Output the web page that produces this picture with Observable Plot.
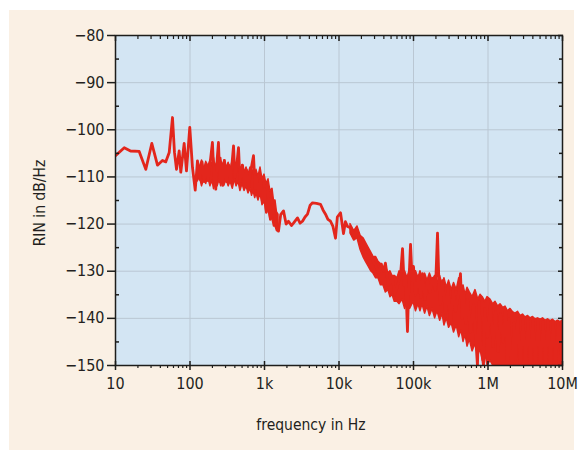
<!DOCTYPE html>
<html><head><meta charset="utf-8">
<script src="https://cdn.jsdelivr.net/npm/d3@7"></script>
<script src="https://cdn.jsdelivr.net/npm/@observablehq/plot@0.6"></script>
<style>
body{margin:0;background:#fff;width:578px;height:450px;position:relative;overflow:hidden;font-family:"DejaVu Sans Condensed","Liberation Sans Narrow","Liberation Sans",sans-serif;color:#231f20;}
#panel{position:absolute;left:9px;top:10px;width:565px;height:440px;background:#faf0e4;}
#chart{position:absolute;left:0;top:0;}
#ylab{position:absolute;left:40px;top:203px;transform:translate(-50%,-50%) rotate(-90deg);font-size:15.5px;white-space:nowrap;}
#xlab{position:absolute;left:311px;top:425px;transform:translate(-50%,-50%);font-size:15.5px;white-space:nowrap;}
</style></head>
<body>
<div id="panel"></div>
<div id="chart"></div>
<div id="ylab">RIN in dB/Hz</div>
<div id="xlab">frequency in Hz</div>
<script>
// x ticks
const xTicks = [10, 100, 1e3, 1e4, 1e5, 1e6, 1e7];
const xTickLabels = ["10", "100", "1k", "10k", "100k", "1M", "10M"];
const xMinor = [20,30,40,50,60,70,80,90, 200,300,400,500,600,700,800,900,
  2e3,3e3,4e3,5e3,6e3,7e3,8e3,9e3, 2e4,3e4,4e4,5e4,6e4,7e4,8e4,9e4,
  2e5,3e5,4e5,5e5,6e5,7e5,8e5,9e5, 2e6,3e6,4e6,5e6,6e6,7e6,8e6,9e6];
// y ticks
const yTicks = [-150, -140, -130, -120, -110, -100, -90, -80];
const yMinor = [-145, -135, -125, -115, -105, -95, -85];

// main trace: frequency (Hz) and RIN (dB/Hz)
const traceF = [10,13.1,15.9,20.8,25.5,30.7,36.6,42.7,47.3,52.6,58.2,61.9,65.9,71.6,75.2,83.5,89.7,99.3,108,117.5,126,
  135,145,155,165,175,188,200,210,222,232,241,252,262,275,290,309,330,350,384,400,421,448,470,507,540,573,610,649,712,750,781,830,884,940,1000,1060,1132,1200,1280,1405,1542,1650,1800,1950,2100,2300,2450,2773,3000,3237,3500,3779,4100,4410,4990,5645,6100,6590,7100,7690,8300,8980,9500,10480,11490,12200,13000,14260,16000,17700,19500,21300,23000,24900,27000,29000,31500,33900,37000,39500,42000,46100,52200,56000,60900,66900,71200,75000,78100,83000,87000,91200,96000,100000,106400,116700,125000,132000,143000,154000,166000,180000,197000,210000,220000,230000,245000,269000,290000,314000,340000,366000,400000,427000,450000,469000,500000,531000,582000,640000,722000,760000,793000,871000,900000,985000,1080000,1170000,1262000,1370000,1472000,1600000,1718000,1827000,1900000,2005000,2132000,2230000,2339000,2500000,2730000,2950000,3186000,3450000,3718000,4000000,4340000,4700000,5070000,5500000,5915000,6400000,6903000,7500000,8056000,8800000,10000000];
const traceDb = [-105.5,-103.8,-104.5,-104.6,-108.4,-102.9,-107.5,-106.5,-106.8,-104.8,-97.4,-104.8,-108.4,-104.5,-109,-102.9,-108.7,-99.5,-108,-112.8,-106.6,
  -110.5,-106.8,-111,-107.2,-110.8,-106.5,-102.7,-110,-112.6,-106,-102.7,-111,-107,-111.8,-106.5,-111,-107.5,-110.8,-103.4,-110,-108,-103.8,-111,-107.5,-112,-108.5,-112.5,-109,-105.5,-112.5,-110,-114,-110.5,-115.5,-112.5,-117.5,-114.5,-119,-116,-120,-121.5,-118,-117.2,-120,-119.4,-120.3,-119.8,-118.7,-119.8,-119.4,-118.5,-117.9,-116,-115.5,-115.6,-115.8,-117,-117.9,-119,-119.4,-120.5,-123,-118.5,-117.6,-122,-119.5,-120.5,-120.8,-122.5,-121.5,-124,-125,-126.5,-127.5,-126.5,-128,-129,-130.5,-128.5,-130,-128.3,-133,-131.5,-135,-133,-131,-125.2,-133,-131,-142.8,-132,-124.3,-132,-129,-135,-131,-135.5,-130.5,-136,-132,-134.5,-131.5,-134,-121.9,-133,-137,-132,-139,-133.5,-141,-134,-138.5,-135,-130.5,-140,-134.5,-141,-136,-143,-137,-150,-136.5,-145,-150,-138,-144,-137,-146,-138.5,-147,-139,-145,-138,-150,-140,-148,-150,-141,-149,-140,-150,-140.3,-150,-140.5,-150,-140.6,-150,-140.3,-150,-140.8,-150,-140.5,-150,-140.7,-150,-141,-150];

// dense noise envelopes (low / high edge)
const band1F = [126,135,145,155,165,175,188,200,210,220,235,250,262,273,290,309,330,350,375,400,421,448,475,507,540,573,610,649,680,712,750,781,830,884,940,1000,1060,1132,1200,1280,1340,1405,1470,1542];
const band1Lo = [-111,-110,-112,-110.5,-111.5,-110,-112,-110.8,-112.6,-111,-112,-110.5,-112,-111,-111.8,-110.5,-112,-111,-112.5,-110.5,-112,-111,-113,-111.5,-113,-112,-113.5,-112.5,-114,-113,-114.5,-113.5,-115,-113.5,-116,-115,-117.5,-117,-119,-119,-120.5,-120.5,-121.5,-121.5];
const band1Hi = [-106.8,-108,-106.5,-108.5,-106.8,-108,-106.5,-107.5,-106,-108,-106.5,-107.8,-106,-108,-106.5,-108,-107,-108.5,-106.5,-108.5,-107.5,-106.5,-108.5,-107.5,-109,-108,-109.5,-108,-109.5,-108.5,-110,-108.5,-110,-108,-110.5,-109.5,-111.5,-110.5,-113,-112.5,-115,-115,-117.5,-118];
const band2F = [14260,16000,17700,19500,21300,23000,24900,27000,29000,31500,33900,36500,39500,42500,46100,49000,52200,56000,60900,65000,71200,77000,83000,90000,100000,108000,116700,124000,132000,143000,154000,166000,180000,195000,210000,228000,245000,260000,280000,300000,325000,350000,380000,410000,440000,469000,500000,531000,570000,620000,679000,740000,793000,850000,920000,985000,1080000,1170000,1262000,1370000,1472000,1600000,1718000,1850000,2005000,2170000,2339000,2530000,2730000,2950000,3186000,3450000,3718000,4020000,4340000,4700000,5070000,5480000,5915000,6400000,6903000,7460000,8056000,8700000,9400000,10000000];
const band2Lo = [-122,-123.5,-123,-125.5,-127,-128,-129,-130,-130.5,-131.5,-131.5,-133,-133,-134.5,-134,-135.5,-135,-136.5,-136.5,-137,-136,-138,-136.5,-138,-136.5,-138.5,-137,-138.5,-137,-139,-137.5,-139.5,-138,-140,-138.5,-140.5,-139,-141.5,-140,-142,-141,-143,-141.5,-144,-142.5,-145,-143.5,-146,-144.5,-147,-145.5,-148,-146.5,-149,-147.5,-150,-149,-150,-150,-150,-150,-150,-150,-150,-150,-150,-150,-150,-150,-150,-150,-150,-150,-150,-150,-150,-150,-150,-150,-150,-150,-150,-150,-150,-150,-150];
const band2Hi = [-120,-121.5,-120.5,-122.5,-123,-124,-125,-126,-127,-127,-128,-128.5,-129.5,-129,-130.5,-130,-131,-131,-131.5,-130,-130.5,-130,-131.5,-129.5,-131,-130,-131.5,-130,-131.5,-130.5,-132,-130.5,-132,-131,-132.5,-131,-133,-131.5,-133.5,-132,-134,-132.5,-134,-131.5,-134,-133,
  -135,-133.5,-134.5,-135.5,-134,-136,-135,-135.5,-136.5,-135.5,-136,-137,-136.5,-137.5,-137,-137.8,-137.5,-138.5,-138,-138.7,-139,-138.6,-139.5,-139.2,-139.8,-139.5,-140,-139.7,-140.2,-140,-140.3,-140,-140.5,-140.2,-140.6,-140.3,-140.8,-140.5,-140.8,-140.5];

const trace = traceF.map((f, i) => ({f, db: traceDb[i]}));
const band = [
  ...band1F.map((f, i) => ({f, lo: band1Lo[i], hi: band1Hi[i], s: 1})),
  ...band2F.map((f, i) => ({f, lo: band2Lo[i], hi: band2Hi[i], s: 2}))
];

const red = "#e3261c";
const grid = "#bac7d3";
const ink = "#1d1d1b";

const chart = Plot.plot({
  width: 578, height: 450,
  marginLeft: 115, marginRight: 16, marginTop: 35, marginBottom: 85,
  style: {background: "transparent", fontFamily: '"DejaVu Sans Condensed","Liberation Sans Narrow","Liberation Sans",sans-serif', fontSize: "16px", color: "#231f20"},
  x: {type: "log", domain: [10, 1e7]},
  y: {domain: [-150, -80]},
  marks: [
    Plot.frame({fill: "#d3e5f3", stroke: null}),
    Plot.gridX(xTicks, {stroke: grid, strokeOpacity: 1}),
    Plot.gridY(yTicks, {stroke: grid, strokeOpacity: 1}),
    Plot.areaY(band, {x: "f", y1: "lo", y2: "hi", z: "s", fill: red, stroke: red, strokeWidth: 1.5, strokeLinejoin: "round", clip: true}),
    Plot.line(trace, {x: "f", y: "db", stroke: red, strokeWidth: 2.8, strokeLinejoin: "round", clip: true}),
    Plot.frame({stroke: ink, strokeWidth: 1.5}),
    // bottom axis
    Plot.axisX(xTicks, {anchor: "bottom", tickSize: 5, tickPadding: 7, tickFormat: d => xTickLabels[xTicks.indexOf(d)], label: null, stroke: ink, strokeWidth: 1.5}),
    Plot.axisX(xTicks, {anchor: "bottom", tickSize: -4, text: null, label: null, stroke: ink, strokeWidth: 1.5}),
    Plot.axisX(xMinor, {anchor: "bottom", tickSize: 3, text: null, label: null, stroke: ink, strokeWidth: 1.2}),
    // top axis (inward)
    Plot.axisX(xTicks, {anchor: "top", tickSize: -5, text: null, label: null, stroke: ink, strokeWidth: 1.5}),
    Plot.axisX(xMinor, {anchor: "top", tickSize: -3, text: null, label: null, stroke: ink, strokeWidth: 1.2}),
    // left axis
    Plot.axisY(yTicks, {anchor: "left", tickSize: 8, tickPadding: 3, label: null, stroke: ink, strokeWidth: 1.5}),
    Plot.axisY(yMinor, {anchor: "left", tickSize: -4, text: null, label: null, stroke: ink, strokeWidth: 1.5}),
    // right axis (inward)
    Plot.axisY(yTicks, {anchor: "right", tickSize: -5, text: null, label: null, stroke: ink, strokeWidth: 1.5}),
    Plot.axisY(yMinor, {anchor: "right", tickSize: -4, text: null, label: null, stroke: ink, strokeWidth: 1.5})
  ]
});
document.getElementById("chart").appendChild(chart);
</script>
</body></html>
